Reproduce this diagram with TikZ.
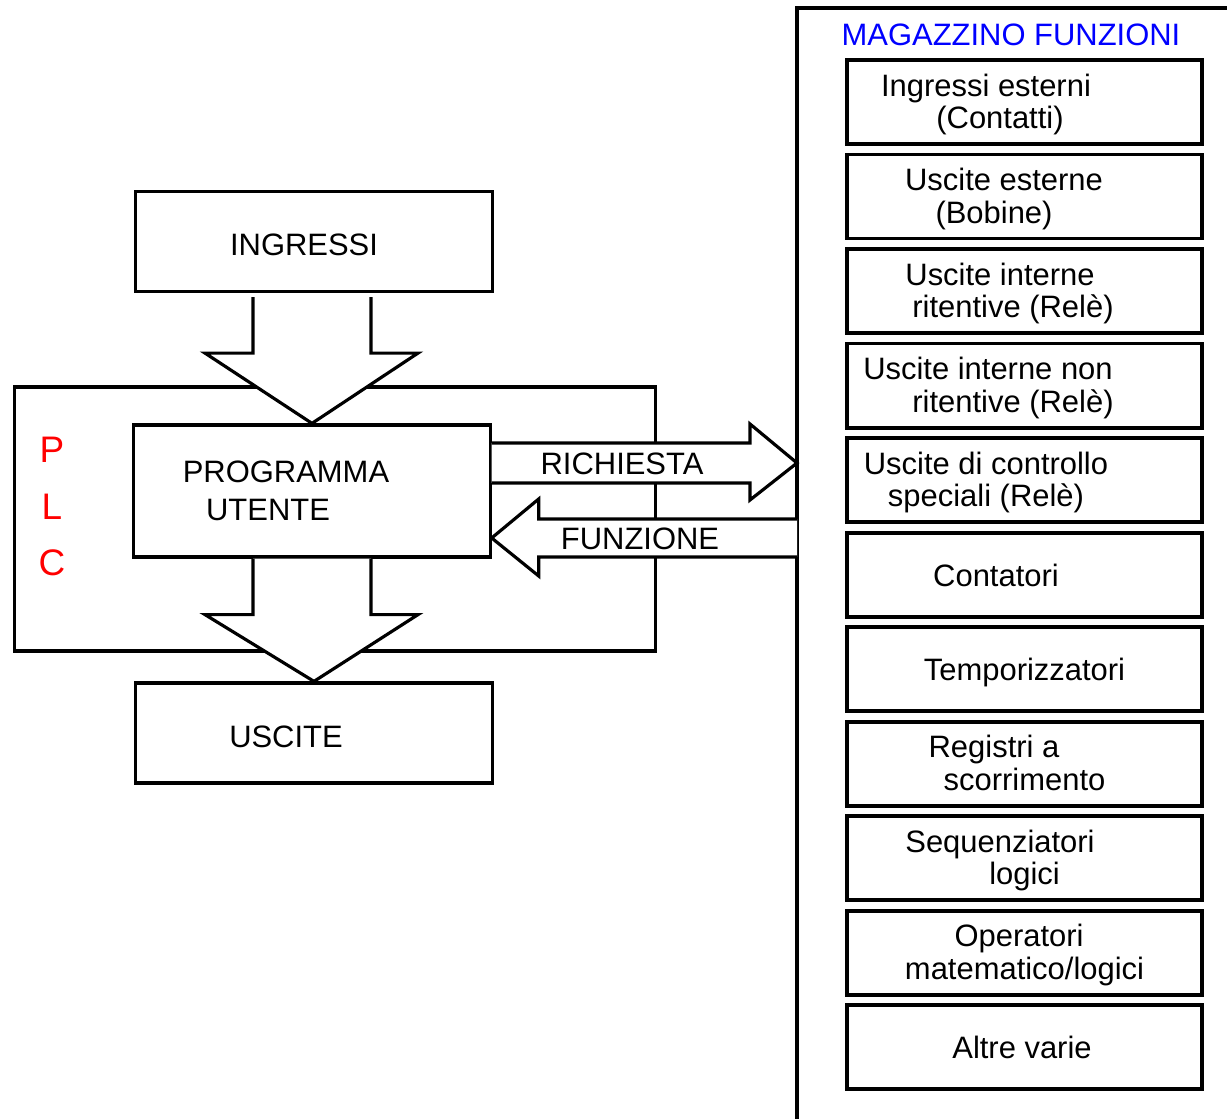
\documentclass[tikz,border=0pt]{standalone}
\usepackage{fontspec}
\setmainfont{Liberation Sans}
\usepackage{tikz}
\usetikzlibrary{positioning, calc}
\usepackage{xcolor}
\definecolor{plcred}{HTML}{FF0000}
\definecolor{magblue}{HTML}{0000FF}

\begin{document}
\begin{tikzpicture}[
    x=0.01cm, y=-0.01cm,
    blk/.style={rectangle, draw=black, fill=white, line width=0.9pt,
                minimum width=3.56cm, minimum height=1.0cm, inner sep=0pt},
    fbox/.style={rectangle, draw=black, line width=1.1pt,
                 minimum width=3.55cm, minimum height=0.84cm, inner sep=0pt},
    lbl/.style={font=\fontsize{8.8}{9.4}\selectfont, inner sep=0pt,
                text height=1.5ex, text depth=.25ex},
    plcl/.style={font=\fontsize{10.5}{12}\selectfont, text=plcred, inner sep=0pt},
    blockarr/.style={draw=black, fill=white, line width=0.9pt, line join=miter},
  ]
    \useasboundingbox (0,0) rectangle (1227,1119);

    % PLC frame
    \node[blk, minimum width=6.4cm, minimum height=2.64cm] (plc) at (335,519) {};
    \foreach \c/\y in {P/450, L/507, C/563}
      \node[plcl] (plc\c) at (52,\y) {\c};

    \node[blk] (ing) at (314,241.5) {};
    \node[blk, minimum height=1.32cm] (prog) at (312,491) {};
    \node[blk] (usc) at (314,733) {};

    \node[lbl] (ingtxt) at ($(ing)+(-10,2.5)$) {INGRESSI};
    \node[lbl] (progtxta) at ($(prog)+(-26,-20)$) {PROGRAMMA};
    \node[lbl] (progtxtb) at ($(prog)+(-44,18)$) {UTENTE};
    \node[lbl] (usctxt) at ($(usc)+(-28,3)$) {USCITE};

    % magazzino frame (runs off the page)
    \coordinate (mag) at (797,8);
    \draw[line width=0.9pt] (mag |- 0,1140) -- (mag) -- (1250,8);
    \coordinate (reqtip) at (797,463);
    \coordinate (funtail) at (797,538);

    % block arrows
    \draw[blockarr] ($(ing.south)+(-61,4)$) -- ++(0,56) -- ++(-48,0)
      -- (prog.north) -- ($(ing.south)+(104,60)$) -- ++(-47,0) -- ++(0,-56);
    \draw[blockarr] ($(prog.south)+(-59,0)$) -- ++(0,56) -- ++(-48,0)
      -- (usc.north) -- ($(prog.south)+(106,56)$) -- ++(-47,0) -- ++(0,-56);
    \draw[blockarr] ($(prog.east)+(0,-48)$) -- ($(reqtip)+(-47,-20)$) -- ++(0,-19)
      -- (reqtip) -- ++(-47,37) -- ++(0,-17) -- ($(prog.east)+(0,-8)$);
    \draw[blockarr] ($(funtail)+(0,-19)$) -- ($(prog.east)+(47,28)$) -- ++(0,-20)
      -- ($(prog.east)+(0,47)$) -- ++(47,38) -- ++(0,-19) -- ($(funtail)+(0,19)$);

    \node[lbl] (req) at ($(reqtip)+(-175,0)$) {RICHIESTA};
    \node[lbl] (fun) at ($(funtail)+(-157,0)$) {FUNZIONE};

    % function store
    \node[fbox] (f1) at (1024.5,102) {};
    \foreach \i [remember=\i as \last (initially 1)] in {2,...,11}
      \node[fbox, below=0.066cm of f\last] (f\i) {};

    \node[lbl, text=magblue] (magtxt) at ($(f1.north)+(-13.5,-24)$) {MAGAZZINO FUNZIONI};

    \foreach \f/\n/\dx/\dy/\t in {
        f1/a/-38.5/-17.5/Ingressi esterni, f1/b/-24.5/15/(Contatti),
        f2/a/-20.5/-17.5/Uscite esterne, f2/b/-30.5/15/(Bobine),
        f3/a/-24.5/-17.5/Uscite interne, f3/b/-11.5/15/ritentive (Relè),
        f4/a/-36.5/-17.5/Uscite interne non, f4/b/-11.5/15/ritentive (Relè),
        f5/a/-38.5/-17.5/Uscite di controllo, f5/b/-38.5/15/speciali (Relè),
        f6/a/-28.5/0/Contatori,
        f7/a/0/0/Temporizzatori,
        f8/a/-30.5/-17.5/Registri a, f8/b/0/15/scorrimento,
        f9/a/-24.5/-17.5/Sequenziatori, f9/b/0/15/logici,
        f10/a/-5.5/-17.5/Operatori, f10/b/0/15/{matematico/logici},
        f11/a/-2.5/0/Altre varie}
      \node[lbl] (\f\n) at ($(\f)+(\dx,\dy)$) {\t};
\end{tikzpicture}
\end{document}
